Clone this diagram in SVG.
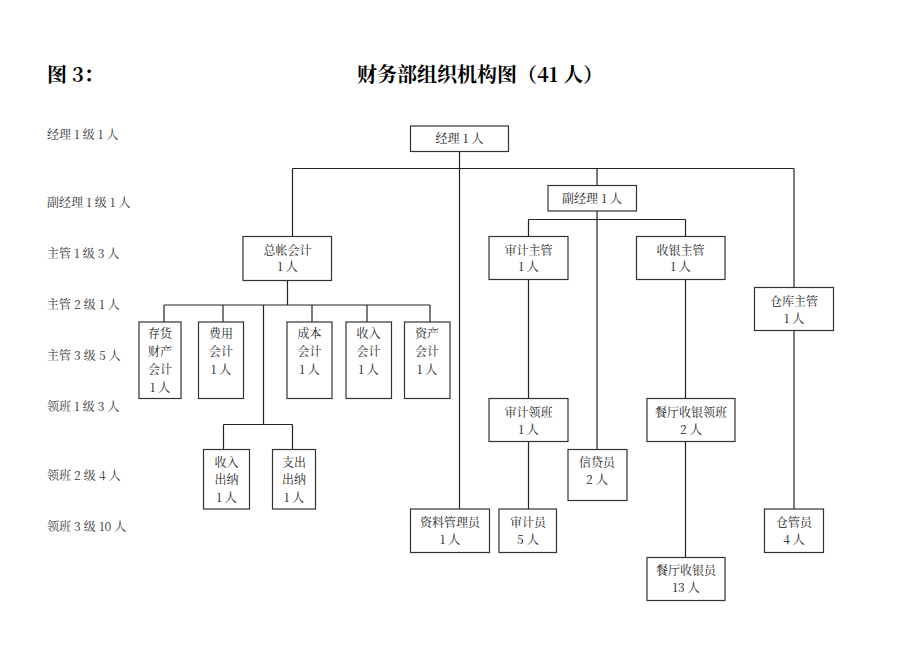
<svg xmlns="http://www.w3.org/2000/svg" width="920" height="651" viewBox="0 0 920 651">
<style>
text{font-family:"Noto Serif CJK SC","Liberation Serif","Noto Sans CJK SC",serif;fill:#222;}
.t{font-size:12px;text-anchor:middle;}
.l{font-size:12px;fill:#333;}
.h{font-size:20px;font-weight:bold;fill:#000;}
rect{fill:#fff;stroke:#333;stroke-width:1.2;}
#connectors path{fill:none;stroke:#222;stroke-width:1.2;}
</style>
<rect x="0" y="0" width="920" height="651" style="stroke:none"/>
<text class="h" x="47" y="82">图 3：</text>
<text class="h" x="357" y="82">财务部组织机构图（41 人）</text>
<g id="levels">
<text class="l" x="47" y="139">经理 1 级 1 人</text>
<text class="l" x="47" y="207">副经理 1 级 1 人</text>
<text class="l" x="47" y="258">主管 1 级 3 人</text>
<text class="l" x="47" y="309">主管 2 级 1 人</text>
<text class="l" x="47" y="360">主管 3 级 5 人</text>
<text class="l" x="47" y="411">领班 1 级 3 人</text>
<text class="l" x="47" y="480">领班 2 级 4 人</text>
<text class="l" x="47" y="531">领班 3 级 10 人</text>
</g>
<g id="connectors">
<path d="M459.5 151V509"/>
<path d="M292.5 168.5H794"/>
<path d="M292.5 168.5V236.5"/>
<path d="M597 168.5V185.5"/>
<path d="M794 168.5V287.5"/>
<path d="M597 211V449.5"/>
<path d="M528.5 219.5H685.5"/>
<path d="M528.5 219.5V236.5"/>
<path d="M685.5 219.5V236.5"/>
<path d="M287.5 280.5V305"/>
<path d="M164 305H430"/>
<path d="M164 305V322M223 305V322M312 305V322M367 305V322M430 305V322"/>
<path d="M263.5 305V424.5"/>
<path d="M223.5 424.5H292.5"/>
<path d="M223.5 424.5V449.5M292.5 424.5V449.5"/>
<path d="M528.5 279.5V398.5"/>
<path d="M528.5 441.5V509"/>
<path d="M685.5 279.5V398.5"/>
<path d="M685.5 441.5V557.5"/>
<path d="M794 330.5V509"/>
</g>
<g id="n-jingli"><rect x="410.5" y="126" width="98" height="25.5"/><text class="t" x="459.5" y="143">经理 1 人</text></g>
<g id="n-fujingli"><rect x="548" y="185.5" width="88.5" height="25.5"/><text class="t" x="592" y="202.5">副经理 1 人</text></g>
<g id="n-zongzhang"><rect x="243" y="236.5" width="88.5" height="44"/><text class="t" x="287.5" y="255">总帐会计</text><text class="t" x="287.5" y="271">1 人</text></g>
<g id="n-shenjizhuguan"><rect x="489" y="236.5" width="79" height="43"/><text class="t" x="528.5" y="254.5">审计主管</text><text class="t" x="528.5" y="271">1 人</text></g>
<g id="n-shouyinzhuguan"><rect x="636.5" y="236.5" width="88.5" height="43"/><text class="t" x="680.5" y="254.5">收银主管</text><text class="t" x="680.5" y="271">1 人</text></g>
<g id="n-cangkuzhuguan"><rect x="754.5" y="287.5" width="79" height="43"/><text class="t" x="794" y="305.5">仓库主管</text><text class="t" x="794" y="322.5">1 人</text></g>
<g id="n-cunhuo"><rect x="139" y="322" width="42" height="76.5"/><text class="t" x="160" y="337.5">存货</text><text class="t" x="160" y="356">财产</text><text class="t" x="160" y="373.5">会计</text><text class="t" x="160" y="391.5">1 人</text></g>
<g id="n-feiyong"><rect x="198.5" y="322" width="45" height="76.5"/><text class="t" x="221" y="337.5">费用</text><text class="t" x="221" y="356">会计</text><text class="t" x="221" y="373.5">1 人</text></g>
<g id="n-chengben"><rect x="287" y="322" width="45" height="76.5"/><text class="t" x="309.5" y="337.5">成本</text><text class="t" x="309.5" y="356">会计</text><text class="t" x="309.5" y="373.5">1 人</text></g>
<g id="n-shouru"><rect x="346" y="322" width="45.5" height="76.5"/><text class="t" x="368.5" y="337.5">收入</text><text class="t" x="368.5" y="356">会计</text><text class="t" x="368.5" y="373.5">1 人</text></g>
<g id="n-zichan"><rect x="404.5" y="322" width="45.5" height="76.5"/><text class="t" x="427" y="337.5">资产</text><text class="t" x="427" y="356">会计</text><text class="t" x="427" y="373.5">1 人</text></g>
<g id="n-shouruchuna"><rect x="203.5" y="449.5" width="46" height="59.5"/><text class="t" x="226.5" y="467">收入</text><text class="t" x="226.5" y="484">出纳</text><text class="t" x="226.5" y="501.5">1 人</text></g>
<g id="n-zhichuchuna"><rect x="272.5" y="449.5" width="43" height="59.5"/><text class="t" x="294" y="467">支出</text><text class="t" x="294" y="484">出纳</text><text class="t" x="294" y="501.5">1 人</text></g>
<g id="n-ziliao"><rect x="410.5" y="509" width="79" height="43.5"/><text class="t" x="450" y="527">资料管理员</text><text class="t" x="450" y="544">1 人</text></g>
<g id="n-shenjilingban"><rect x="489" y="398.5" width="79" height="43"/><text class="t" x="528.5" y="416.5">审计领班</text><text class="t" x="528.5" y="433.5">1 人</text></g>
<g id="n-xindai"><rect x="568" y="449.5" width="59" height="51"/><text class="t" x="597" y="467">信贷员</text><text class="t" x="597" y="484">2 人</text></g>
<g id="n-shenjiyuan"><rect x="499" y="509" width="57.5" height="43.5"/><text class="t" x="528" y="527">审计员</text><text class="t" x="528" y="544">5 人</text></g>
<g id="n-canting-lingban"><rect x="647" y="398.5" width="88" height="43"/><text class="t" x="691" y="416.5">餐厅收银领班</text><text class="t" x="691" y="433.5">2 人</text></g>
<g id="n-canting-yuan"><rect x="647" y="557.5" width="78" height="43"/><text class="t" x="686" y="575">餐厅收银员</text><text class="t" x="686" y="592">13 人</text></g>
<g id="n-cangguan"><rect x="764.5" y="509" width="59" height="43.5"/><text class="t" x="794" y="527">仓管员</text><text class="t" x="794" y="544">4 人</text></g>
</svg>
